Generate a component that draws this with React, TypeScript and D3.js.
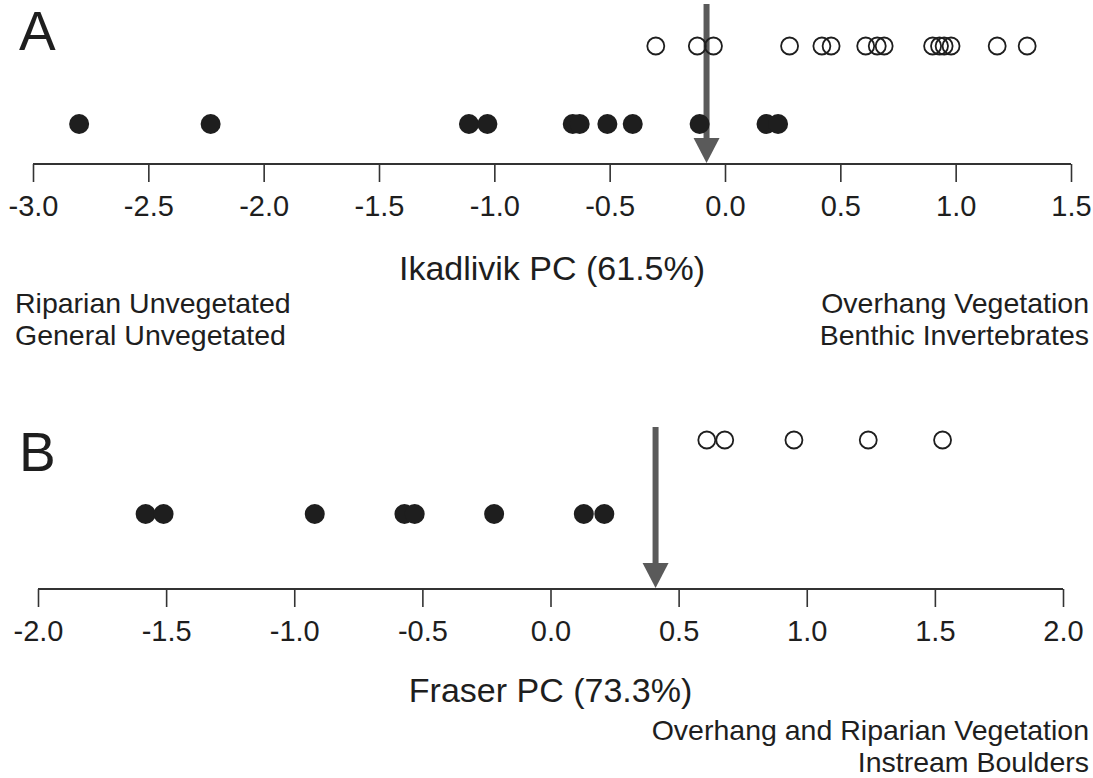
import React, { useEffect, useRef } from "react";
import * as d3 from "d3";

// PC scores per site
const ikadlivikOpen = [-0.3, -0.12, -0.05, 0.28, 0.42, 0.46, 0.61, 0.66, 0.69, 0.9, 0.93, 0.95, 0.98, 1.18, 1.31];
const ikadlivikFilled = [-2.8, -2.23, -1.11, -1.03, -0.66, -0.63, -0.51, -0.4, -0.11, 0.18, 0.23];
const ikadlivikSplit = -0.08;
const ikadlivikTicks = [-3.0, -2.5, -2.0, -1.5, -1.0, -0.5, 0.0, 0.5, 1.0, 1.5];
const ikadlivikLeftLabels = ["Riparian Unvegetated", "General Unvegetated"];
const ikadlivikRightLabels = ["Overhang Vegetation", "Benthic Invertebrates"];

const fraserOpen = [0.61, 0.68, 0.95, 1.24, 1.53];
const fraserFilled = [-1.58, -1.51, -0.92, -0.57, -0.53, -0.22, 0.13, 0.21];
const fraserSplit = 0.41;
const fraserTicks = [-2.0, -1.5, -1.0, -0.5, 0.0, 0.5, 1.0, 1.5, 2.0];
const fraserRightLabels = ["Overhang and Riparian Vegetation", "Instream Boulders"];

const FONT = "'Liberation Sans', Arial, Helvetica, sans-serif";
const INK = "#1e1e1e";
const ARROW = "#5a5a5a";

function drawPanel(g, opts) {
  const x = d3.scaleLinear().domain(opts.domain).range(opts.range);

  // axis
  const axis = g.append("g").attr("transform", `translate(0,${opts.axisY})`)
    .call(d3.axisBottom(x).tickValues(opts.ticks).tickSize(18).tickPadding(13)
      .tickFormat(d => d.toFixed(1)));
  axis.select(".domain").attr("stroke", "#333").attr("stroke-width", 2).attr("d", `M${opts.range[0]},0H${opts.range[1]}`);
  axis.selectAll(".tick line").attr("stroke", "#333").attr("stroke-width", 1.6);
  axis.selectAll(".tick text").attr("fill", INK).style("font-family", FONT).style("font-size", "29px");

  // split arrow
  const ax = x(opts.split);
  g.append("line").attr("x1", ax).attr("x2", ax).attr("y1", opts.arrowTop).attr("y2", opts.axisY - 20)
    .attr("stroke", ARROW).attr("stroke-width", 6);
  g.append("path")
    .attr("d", `M${ax - 13},${opts.axisY - 26}L${ax + 13},${opts.axisY - 26}L${ax},${opts.axisY - 1}Z`)
    .attr("fill", ARROW);

  // points
  g.selectAll("circle.filled").data(opts.filled).join("circle").attr("class", "filled")
    .attr("cx", d => x(d)).attr("cy", opts.filledY).attr("r", 10).attr("fill", INK);
  g.selectAll("circle.open").data(opts.open).join("circle").attr("class", "open")
    .attr("cx", d => x(d)).attr("cy", opts.openY).attr("r", 8.5)
    .attr("fill", "none").attr("stroke", INK).attr("stroke-width", 1.8);

  // titles
  g.append("text").attr("x", 19).attr("y", opts.letterY).text(opts.letter)
    .attr("fill", INK).style("font-family", FONT).style("font-size", "55px");
  g.append("text").attr("x", (opts.range[0] + opts.range[1]) / 2).attr("y", opts.titleY)
    .attr("text-anchor", "middle").text(opts.title)
    .attr("fill", INK).style("font-family", FONT).style("font-size", "34px");

  (opts.leftLabels || []).forEach((t, i) => {
    g.append("text").attr("x", 15).attr("y", opts.labelY + i * 32).text(t)
      .attr("fill", INK).style("font-family", FONT).style("font-size", "28.5px");
  });
  (opts.rightLabels || []).forEach((t, i) => {
    g.append("text").attr("x", 1089).attr("y", opts.labelY + i * 32).attr("text-anchor", "end").text(t)
      .attr("fill", INK).style("font-family", FONT).style("font-size", "28.5px");
  });
}

export default function App() {
  const ref = useRef(null);

  useEffect(() => {
    const svg = d3.select(ref.current);
    svg.selectAll("*").remove();

    drawPanel(svg.append("g"), {
      domain: [-3, 1.5], range: [33, 1071], ticks: ikadlivikTicks, axisY: 164,
      split: ikadlivikSplit, arrowTop: 4, filled: ikadlivikFilled, open: ikadlivikOpen,
      filledY: 124, openY: 46, letter: "A", letterY: 50,
      title: "Ikadlivik PC (61.5%)", titleY: 280,
      leftLabels: ikadlivikLeftLabels, rightLabels: ikadlivikRightLabels, labelY: 313,
    });

    drawPanel(svg.append("g"), {
      domain: [-2, 2], range: [38, 1063], ticks: fraserTicks, axisY: 589,
      split: fraserSplit, arrowTop: 427, filled: fraserFilled, open: fraserOpen,
      filledY: 514, openY: 440, letter: "B", letterY: 471,
      title: "Fraser PC (73.3%)", titleY: 702,
      rightLabels: fraserRightLabels, labelY: 740,
    });
  }, []);

  return (
    <svg ref={ref} width={1093} height={778}
      style={{ position: "absolute", left: 0, top: 0, background: "#fff" }} />
  );
}
